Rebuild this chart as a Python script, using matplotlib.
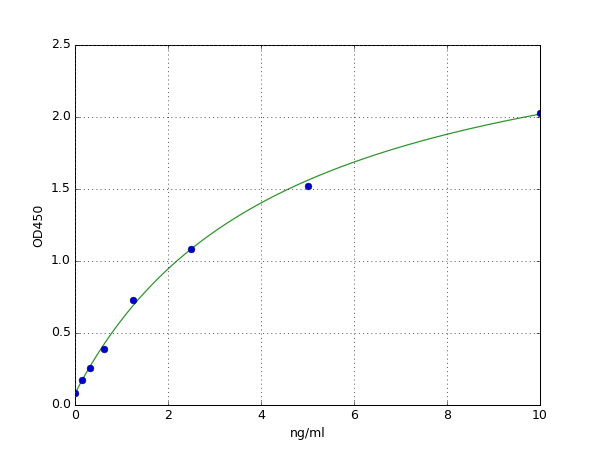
import numpy as np
import matplotlib
matplotlib.use("Agg")
import matplotlib.pyplot as plt

plt.style.use('classic')

conc = [0, 0.156, 0.3125, 0.625, 1.25, 2.5, 5, 10]
od = [0.085, 0.171, 0.259, 0.389, 0.727, 1.081, 1.523, 2.03]

# 4PL fit parameters (estimated)
a_fit, b_fit, c_fit, d_fit = 0.08, 1.0, 4.51, 2.895

fig = plt.figure(figsize=(8, 6), dpi=75)
ax = fig.add_axes([0.125, 0.1, 0.775, 0.8])
xs = np.linspace(0, 10, 400)
ys = d_fit + (a_fit - d_fit) / (1 + (xs / c_fit) ** b_fit)
ax.plot(xs, ys, color='#2e962e', lw=1.2)
ax.plot(conc, od, 'o', color='#0000cc', mec='#00008b', ms=6.5)
ax.set_xlim(0, 10)
ax.set_ylim(0, 2.5)
ax.set_xticks([0, 2, 4, 6, 8, 10])
ax.set_yticks([0.0, 0.5, 1.0, 1.5, 2.0, 2.5])
ax.set_xlabel('ng/ml')
ax.set_ylabel('OD450')
ax.grid(True, color='#444444', linestyle=':', lw=0.8)
fig.savefig('out.png', dpi=75, facecolor='white')
